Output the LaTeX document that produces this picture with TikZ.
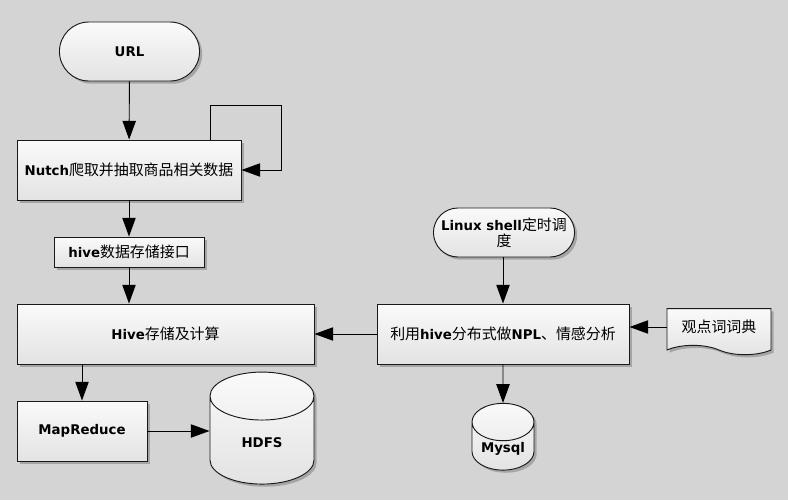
\documentclass[tikz,border=0pt]{standalone}
\usepackage{fontspec}
\setmainfont{DejaVu Sans}
\newfontfamily\cjkfont{Noto Sans CJK SC}[Scale=1.12]
\newcommand{\zh}[1]{{\cjkfont\mdseries #1}}
\usetikzlibrary{arrows.meta,shapes.geometric,shapes.misc,shapes.symbols,shadows}
\definecolor{bggray}{RGB}{212,212,212}

\begin{document}
\begin{tikzpicture}[
    x=0.75pt, y=-0.75pt,
    shade/.style={top color=black!2, bottom color=black!11, draw=black!90, line width=0.7pt,
        drop shadow={shadow xshift=2pt, shadow yshift=-2pt, opacity=0.22, fill=black}},
    block/.style={rectangle, shade, align=center, font=\fontsize{10}{12}\selectfont\bfseries},
    terminal/.style={rounded rectangle, shade, align=center, font=\fontsize{10}{12}\selectfont\bfseries},
    store/.style={cylinder, shape border rotate=90, shade, inner sep=1pt, align=center, font=\fontsize{10}{12}\selectfont\bfseries},
    document/.style={tape, tape bend top=none, tape bend bottom=out and in, tape bend height=7pt, shade, align=center, font=\fontsize{10}{12}\selectfont},
    arrow/.style={-{Triangle[length=14pt, width=10pt]}, line width=0.7pt}
]

% Background
\fill[bggray] (0,0) rectangle (788,500);

% Crawling chain
\node[terminal, minimum width=111.75pt, minimum height=44.25pt] (url) at (129.5,51.5) {URL};
\node[block, minimum width=168pt, minimum height=45pt] (nutch) at (129,170) {Nutch\zh{爬取并抽取商品相关数据}};
\node[block, minimum width=112.5pt, minimum height=22.5pt] (hiveapi) at (129,252) {hive\zh{数据存储接口}};
\node[block, minimum width=222.75pt, minimum height=45pt] (hive) at (165.5,334) {Hive\zh{存储及计算}};
\node[block, minimum width=97.5pt, minimum height=45pt] (mr) at (82,431) {MapReduce};
\node[store, minimum width=78pt, minimum height=84pt, aspect=1.1] (hdfs) at (262,443) {HDFS};

\coordinate (loop) at (281,105);

\draw[arrow] (url) -- (nutch);
\draw[arrow] ([xshift=-23.25pt]nutch.north east) |- (loop) |- (nutch.east);
\draw[arrow] (nutch) -- (hiveapi);
\draw[arrow] (hiveapi.south) -- (hiveapi.south |- hive.north);
\draw[arrow] (mr.north |- hive.south) -- (mr.north);
\draw[arrow] (mr.east) -- (mr.east -| hdfs.west);

% Analysis chain
\node[terminal, minimum width=112.5pt, minimum height=36.75pt] (cron) at (504,232.5) {Linux shell\zh{定时调}\\\zh{度}};
\node[block, minimum width=189pt, minimum height=45pt] (npl) at (503,334) {\zh{利用}hive\zh{分布式做}NPL\zh{、情感分析}};
\node[document, minimum width=78pt, minimum height=34.5pt] (dict) at (719,327) {\zh{观点词词典}};
\node[store, minimum width=46.5pt, minimum height=43pt, aspect=0.8] (mysql) at (503,449) {Mysql};

\draw[arrow] (cron.south -| npl.north) -- (npl.north);
\draw[arrow] (npl) -- (hive);
\draw[arrow] (dict.west) -- (dict.west -| npl.east);
\draw[arrow] (npl) -- (mysql);

\end{tikzpicture}
\end{document}
